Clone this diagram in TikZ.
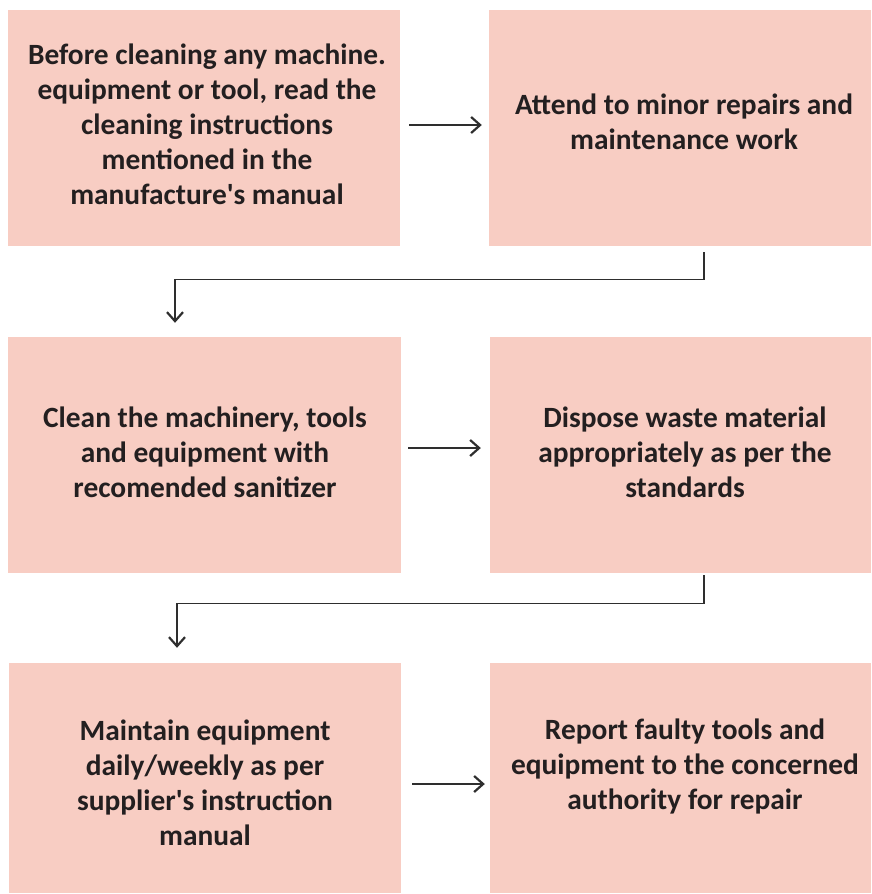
\documentclass[tikz,border=0pt]{standalone}
\usepackage{fontspec}
\setmainfont{Carlito}[Ligatures=TeXOff]
\usetikzlibrary{arrows.meta}
\definecolor{boxfill}{HTML}{F8CDC3}
\definecolor{ink}{HTML}{231F20}
\definecolor{wire}{HTML}{2E2E2E}
\begin{document}
\begin{tikzpicture}[x=1pt,y=-1pt,
  stepbox/.style={rectangle,fill=boxfill,draw=none,inner sep=0pt},
  steptext/.style={inner sep=0pt,align=center,text=ink,anchor=base,
    font=\fontsize{29.4}{35}\selectfont\bfseries},
  arr/.style={draw=wire,line width=1.4pt,
    -{Straight Barb[length=9pt,width=16pt,line width=2.2pt]}}]
\useasboundingbox (0,0) rectangle (872,894);
% boxes
\node[stepbox,minimum width=392pt,minimum height=236pt] (b1) at (204,128) {};
\node[stepbox,minimum width=382pt,minimum height=236pt] (b2) at (680,128) {};
\node[stepbox,minimum width=393pt,minimum height=236pt] (b3) at (204.5,455) {};
\node[stepbox,minimum width=381pt,minimum height=236pt] (b4) at (680.5,455) {};
\node[stepbox,minimum width=392pt,minimum height=230pt] (b5) at (205,778) {};
\node[stepbox,minimum width=381pt,minimum height=230pt] (b6) at (680.5,778) {};
% texts, anchored at the baseline of the last line
\node[steptext] (t1) at (207,204)
  {Before cleaning any machine.\\equipment or tool, read the\\cleaning instructions\\mentioned in the\\manufacture's manual};
\node[steptext] (t2) at (684,149)
  {Attend to minor repairs and\\maintenance work};
\node[steptext] (t3) at (205,497)
  {Clean the machinery, tools\\and equipment with\\recomended sanitizer};
\node[steptext] (t4) at (685,497)
  {Dispose waste material\\appropriately as per the\\standards};
\node[steptext] (t5) at (205,845)
  {Maintain equipment\\daily/weekly as per\\supplier's instruction\\manual};
\node[steptext] (t6) at (685,809)
  {Report faulty tools and\\equipment to the concerned\\authority for repair};
% connectors
\draw[arr] ([xshift=9pt,yshift=3pt]b1.east) -- ([xshift=-7pt,yshift=3pt]b2.west);
\draw[arr] ([xshift=24pt,yshift=-6pt]b2.south) -- ++(0,27) -| ([xshift=-29.5pt,yshift=14pt]b3.north);
\draw[arr] ([xshift=7pt,yshift=7pt]b3.east) -- ([xshift=-9pt,yshift=7pt]b4.west);
\draw[arr] ([xshift=23.5pt,yshift=-2pt]b4.south) -- ++(0,28) -| ([xshift=-28pt,yshift=15pt]b5.north);
\draw[arr] ([xshift=11pt,yshift=-6pt]b5.east) -- ([xshift=-5pt,yshift=-6pt]b6.west);
\end{tikzpicture}
\end{document}
